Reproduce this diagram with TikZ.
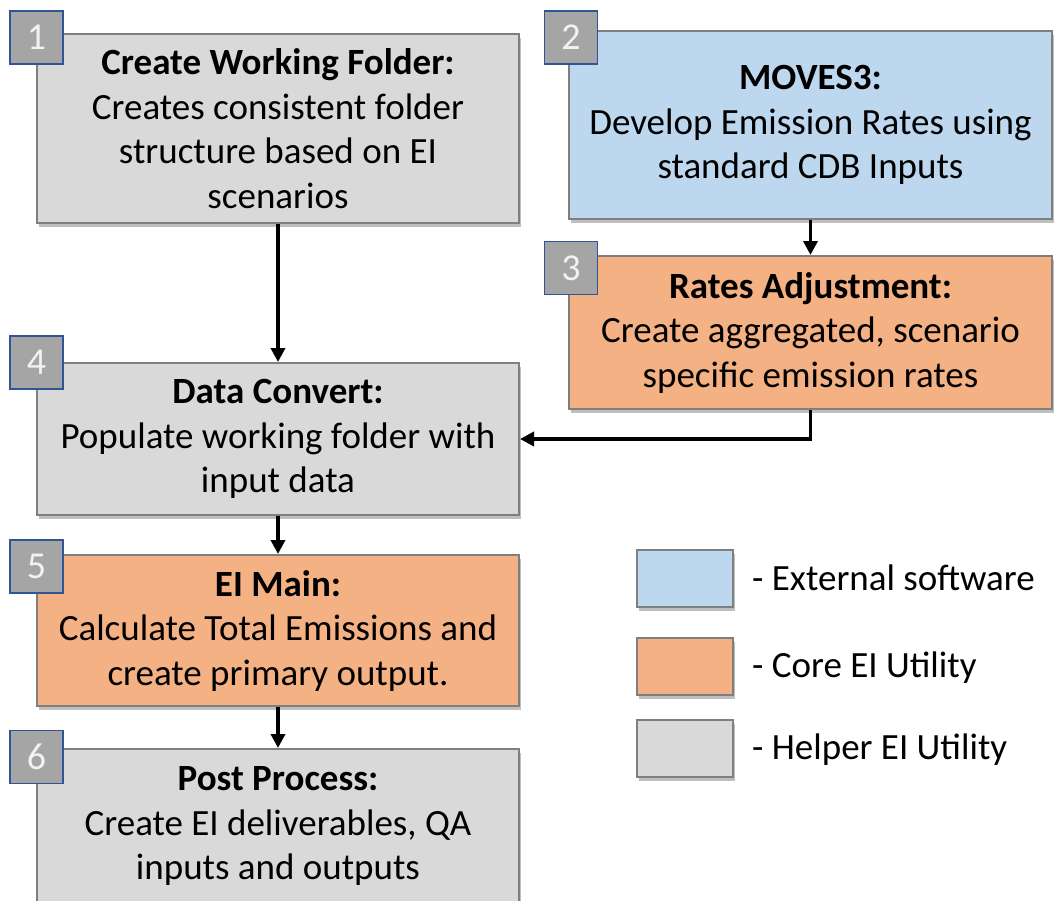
\documentclass[tikz,border=0pt]{standalone}
\usepackage{fontspec}
\setmainfont{Carlito}
\usetikzlibrary{arrows.meta,shadows}
\definecolor{grayfill}{HTML}{D9D9D9}
\definecolor{bluefill}{HTML}{BDD7EE}
\definecolor{orangefill}{HTML}{F4B183}
\definecolor{edgegray}{HTML}{7F7F7F}
\definecolor{numfill}{HTML}{A5A5A5}
\definecolor{numedge}{HTML}{2F5597}
\begin{document}
\begin{tikzpicture}[x=1pt,y=-1pt,
  stepbox/.style={draw=edgegray, line width=2pt, inner sep=0pt, align=center,
    font=\fontsize{37}{44.5}\selectfont,
    drop shadow={shadow xshift=2pt, shadow yshift=-4pt, opacity=0.25, fill=black}},
  helper/.style={stepbox, fill=grayfill},
  core/.style={stepbox, fill=orangefill},
  external/.style={stepbox, fill=bluefill},
  numbox/.style={draw=numedge, line width=1.5pt, fill=numfill, minimum width=53pt, minimum height=53pt,
    inner sep=0pt, text=white!95!black, font=\fontsize{38}{40}\selectfont},
  legbox/.style={draw=edgegray, line width=2pt, minimum width=96pt, minimum height=57pt,
    drop shadow={shadow xshift=2pt, shadow yshift=-4pt, opacity=0.25, fill=black}},
  legtext/.style={anchor=west, inner sep=0pt, font=\fontsize{37}{40}\selectfont},
  flow/.style={line width=3.5pt, -{Triangle[length=14pt,width=14pt]}}
]
\useasboundingbox (0,0) rectangle (1054,900);
\clip (0,0) rectangle (1054,900);

\node[helper, minimum width=482pt, minimum height=189pt] (b1) at (278,128.5)
  {\textbf{Create Working Folder:}\\Creates consistent folder\\structure based on EI\\scenarios};
\node[external, minimum width=483pt, minimum height=188pt] (b2) at (810.5,125)
  {\textbf{MOVES3:}\\Develop Emission Rates using\\standard CDB Inputs};
\node[core, minimum width=483pt, minimum height=153pt] (b3) at (810.5,332.5)
  {\textbf{Rates Adjustment:}\\Create aggregated, scenario\\specific emission rates};
\node[helper, minimum width=482pt, minimum height=152pt] (b4) at (278,439)
  {\textbf{Data Convert:}\\Populate working folder with\\input data};
\node[core, minimum width=482pt, minimum height=151pt] (b5) at (278,630.5)
  {\textbf{EI Main:}\\Calculate Total Emissions and\\create primary output.};
\node[helper, minimum width=482pt, minimum height=154pt] (b6) at (278,826)
  {\textbf{Post Process:}\\Create EI deliverables, QA\\inputs and outputs};

\node[numbox] (n1) at (36.5,37.5) {1};
\node[numbox] (n2) at (571,37.5) {2};
\node[numbox] (n3) at (571,268) {3};
\node[numbox] (n4) at (36.5,362.5) {4};
\node[numbox] (n5) at (36.5,566.5) {5};
\node[numbox] (n6) at (36.5,757) {6};

\draw[flow] (b1.south) -- (b4.north);
\draw[flow] (b2.south) -- (b3.north);
\draw[flow] (b3.south) |- (b4.east);
\draw[flow] (b4.south) -- (b5.north);
\draw[flow] (b5.south) -- (b6.north);

\node[legbox, fill=bluefill] (l1) at (685,578.5) {};
\node[legbox, fill=orangefill] (l2) at (685,666.5) {};
\node[legbox, fill=grayfill] (l3) at (685,748) {};
\node[legtext] (t1) at (752,578) {- External software};
\node[legtext] (t2) at (752,668) {- Core EI Utility};
\node[legtext] (t3) at (752,750) {- Helper EI Utility};
\end{tikzpicture}
\end{document}
